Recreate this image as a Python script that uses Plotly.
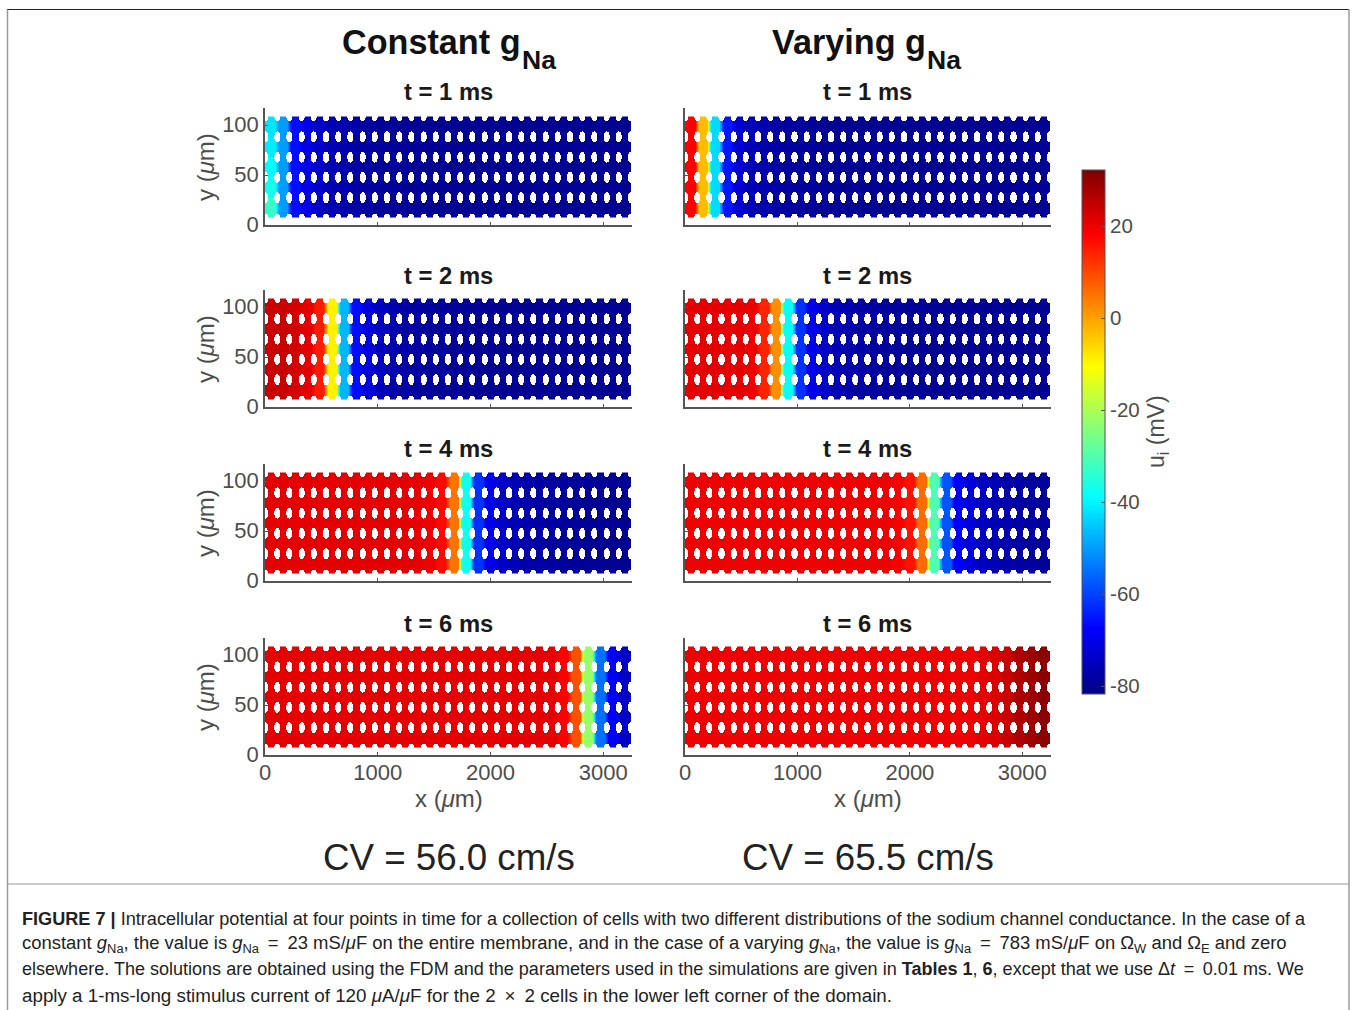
import numpy as np
import plotly.graph_objects as go

W, H = 1357, 1010
# Potential (mV) per cell column, 30 columns left to right
A_T1 = [-38,-50,-66,-71,-74,-76,-77,-78,-78.5,-79,-79,-79.5,-79.5,-80,-80,-80,-80,-80,-80,-80,-80,-80,-80,-80,-80,-80,-80,-80,-80,-80]
A_T2 = [24,24,23,21,15,-9,-47,-66,-72,-75,-77,-78,-78.5,-79,-79,-79.5,-79.5,-80,-80,-80,-80,-80,-80,-80,-80,-80,-80,-80,-80,-80]
A_T4 = [21,21,21,21,21,21,21,21,21,21,21,21,21,20,17,5,-37,-62,-70,-74,-76,-77,-78,-78.5,-79,-79,-79.5,-79.5,-80,-80]
A_T6 = [21,21,21,21,21,21,21,21,21,21,21,21,21,21,21,21,21,21,21,21,21,21,21,21,18,9,-22,-55,-68,-74]
B_T1 = [18,-3,-43,-65,-73,-76,-77,-78,-78.5,-79,-79,-79.5,-79.5,-80,-80,-80,-80,-80,-80,-80,-80,-80,-80,-80,-80,-80,-80,-80,-80,-80]
B_T2 = [21,21,21,21,21,20,14,2,-38,-62,-70,-74,-76,-77,-78,-78.5,-79,-79,-79.5,-79.5,-80,-80,-80,-80,-80,-80,-80,-80,-80,-80]
B_T4 = [20,20,20,20,20,20,20,20,20,20,20,20,20,20,20,20,20,19,16,6,-30,-58,-68,-72,-75,-76,-77,-78,-78.5,-79]
B_T6 = [20,20,20,20,20,20,20,20,20,20,20,20,20,20,20,20,20,20,20,20,20,20,20,20,21,22,24,27,29,31]
# First column of the t = 1 ms constant panel varies with row (bottom to top)
A_T1_FIRST_COLUMN = [-33,-37,-39,-41,-42]

PANEL_TIMES = ["t = 1 ms", "t = 2 ms", "t = 4 ms", "t = 6 ms"]
HEADINGS = ["Constant g", "Varying g"]
HEADING_SUB = "Na"
CV_LABELS = ["CV = 56.0 cm/s", "CV = 65.5 cm/s"]
X_TICKS = [0, 1000, 2000, 3000]
Y_TICKS = [0, 50, 100]
CB_TICKS = [-80, -60, -40, -20, 0, 20]
CB_TEXT = ["-80", "-60", "-40", "-20", "0", "20"]
JET = [[0, "#000084"], [0.125, "#0000ff"], [0.375, "#00ffff"], [0.625, "#ffff00"], [0.875, "#ff0000"], [1, "#800000"]]
T = "\u2009"
CAPTION = [
    "<b>FIGURE 7 |</b> Intracellular potential at four points in time for a collection of cells with two different distributions of the sodium channel conductance. In the case of a",
    f"constant <i>g</i><sub>Na</sub>, the value is <i>g</i><sub>Na</sub>{T} = {T}23 mS/<i>μ</i>F on the entire membrane, and in the case of a varying <i>g</i><sub>Na</sub>, the value is <i>g</i><sub>Na</sub>{T} = {T}783 mS/<i>μ</i>F on Ω<sub>W</sub> and Ω<sub>E</sub> and zero",
    f"elsewhere. The solutions are obtained using the FDM and the parameters used in the simulations are given in <b>Tables 1</b>, <b>6</b>, except that we use Δ<i>t</i>{T} = {T}0.01 ms. We",
    f"apply a 1-ms-long stimulus current of 120 <i>μ</i>A/<i>μ</i>F for the 2{T} × {T}2 cells in the lower left corner of the domain.",
]
CAPTION_SIZES = [18.13, 18.45, 18.05, 18.8]

GRAY = "#4d4d4d"
FONT = "Liberation Sans"
N_COL, N_ROW = 30, 5
X_SPAN, Y_LOW, Y_HIGH = 3250.0, 7.5, 108.5
PITCH_X = X_SPAN / N_COL
PITCH_Y = (Y_HIGH - Y_LOW) / N_ROW
SUB = 24
SOFT = 7

nx, ny = N_COL * SUB, int((Y_HIGH - Y_LOW) * 2)
dx, dy = X_SPAN / nx, (Y_HIGH - Y_LOW) / ny
xc = (np.arange(nx) + 0.5) * dx
yc = Y_LOW + (np.arange(ny) + 0.5) * dy
XX, YY = np.meshgrid(xc, yc)

ku = np.round(XX / PITCH_X) * PITCH_X
ju = np.round((YY - Y_LOW) / PITCH_Y) * PITCH_Y + Y_LOW
edge = (ju <= Y_LOW + 0.1) | (ju >= Y_HIGH - 0.1)
semi_x, semi_y = 27.0, np.where(edge, 4.2, 5.5)
MASK = ((XX - ku) / semi_x) ** 2 + ((YY - ju) / semi_y) ** 2 < 1


def field(values, first=None):
    column = (xc // PITCH_X).astype(int)
    z = np.tile(np.array(values, dtype=float)[column], (ny, 1))
    if first is not None:
        rows = np.minimum((yc - Y_LOW) // PITCH_Y, N_ROW - 1).astype(int)
        z[:, column == 0] = np.array(first, dtype=float)[rows][:, None]
    # soften the hard steps between cells, as in the blurred source picture
    pad = SOFT // 2
    padded = np.pad(z, ((0, 0), (pad, pad)), mode="edge")
    cum = np.cumsum(np.pad(padded, ((0, 0), (1, 0))), axis=1)
    z = ((cum[:, SOFT:] - cum[:, :-SOFT]) / SOFT).astype(np.float32)
    z[MASK] = np.nan
    return z


def px_x(p):
    return p / W


def px_y(p):
    return 1 - p / H


LEFT_X = [(265, 632), (685, 1051)]
BOTTOM_Y = [225, 407, 581, 755]
TITLE_Y = [92, 275, 449, 623]
HEADING_X = [342, 772]
HEADING_SUB_X = [522, 927]
PANEL_H = 117
COLUMNS = [[A_T1, A_T2, A_T4, A_T6], [B_T1, B_T2, B_T4, B_T6]]

fig = go.Figure()
layout = dict(
    width=W, height=H, margin=dict(l=0, r=0, t=0, b=0, autoexpand=False), autosize=False,
    paper_bgcolor="white", plot_bgcolor="white", showlegend=False,
    font=dict(family=FONT, color=GRAY),
    coloraxis=dict(
        cmin=-81.7, cmax=32.2, colorscale=JET,
        colorbar=dict(
            x=px_x(1082), xanchor="left", xpad=0, y=px_y(694), yanchor="bottom", ypad=0,
            thickness=23, thicknessmode="pixels", len=524, lenmode="pixels",
            outlinecolor="#555555", outlinewidth=1,
            tickmode="array", tickvals=CB_TICKS, ticktext=CB_TEXT,
            ticks="inside", ticklen=4, tickcolor="#555555",
            tickfont=dict(family=FONT, size=20.5, color=GRAY),
        ),
    ),
)
annotations = []
n = 0
for c in range(2):
    for r in range(4):
        n += 1
        suffix = "" if n == 1 else str(n)
        z = field(COLUMNS[c][r], A_T1_FIRST_COLUMN if (c == 0 and r == 0) else None)
        fig.add_trace(go.Heatmap(
            z=z, x0=dx / 2, dx=dx, y0=Y_LOW + dy / 2, dy=dy,
            coloraxis="coloraxis", xaxis=f"x{suffix}", yaxis=f"y{suffix}",
            hoverongaps=False,
        ))
        bottom = BOTTOM_Y[r]
        layout[f"xaxis{suffix}"] = dict(
            domain=[px_x(LEFT_X[c][0]), px_x(LEFT_X[c][1])], range=[0, 3255],
            anchor=f"y{suffix}", showgrid=False, zeroline=False,
            showline=True, linecolor="#555555", linewidth=1.5,
            ticks="inside", ticklen=3, tickcolor="#555555",
            tickmode="array", tickvals=X_TICKS,
            showticklabels=r == 3, ticklabelstandoff=-3,
            tickfont=dict(family=FONT, size=22, color=GRAY),
        )
        layout[f"yaxis{suffix}"] = dict(
            domain=[px_y(bottom), px_y(bottom - PANEL_H)], range=[0, 117],
            anchor=f"x{suffix}", showgrid=False, zeroline=False,
            showline=True, linecolor="#555555", linewidth=1.5,
            ticks="inside", ticklen=3, tickcolor="#555555",
            tickmode="array", tickvals=Y_TICKS,
            showticklabels=c == 0, ticklabelshift=-1,
            tickfont=dict(family=FONT, size=22, color=GRAY),
        )
        center = sum(LEFT_X[c]) / 2
        annotations.append(dict(
            text=f"<b>{PANEL_TIMES[r]}</b>", x=px_x(center), y=px_y(TITLE_Y[r]),
            font=dict(size=23.8, color="#1a1a1a"),
        ))
        if c == 0:
            annotations.append(dict(
                text="y (<i>μ</i>m)", x=px_x(205), y=px_y(bottom - 58), textangle=-90,
                font=dict(size=24, color=GRAY),
            ))
        if r == 3:
            annotations.append(dict(
                text="x (<i>μ</i>m)", x=px_x(center), y=px_y(798),
                font=dict(size=24, color=GRAY),
            ))
    center = sum(LEFT_X[c]) / 2
    annotations.append(dict(
        text=f"<b>{HEADINGS[c]}</b>", x=px_x(HEADING_X[c] - 2), xanchor="left", y=px_y(42),
        font=dict(size=34.2, color="#111111"),
    ))
    annotations.append(dict(
        text=f"<b>{HEADING_SUB}</b>", x=px_x(HEADING_SUB_X[c] - 2), xanchor="left", y=px_y(60),
        font=dict(size=26.5, color="#111111"),
    ))
    annotations.append(dict(
        text=CV_LABELS[c], x=px_x(center), y=px_y(857),
        font=dict(size=36.7, color="#222222"),
    ))

annotations.append(dict(
    text="u<sub>i</sub> (mV)", x=px_x(1158), y=px_y(432), textangle=-90,
    font=dict(size=23, color=GRAY),
))
for line, y, size in zip(CAPTION, [919, 944, 969, 995], CAPTION_SIZES):
    annotations.append(dict(
        text=line, x=px_x(20), xanchor="left", y=px_y(y),
        font=dict(size=size, color="#222222"),
    ))
for a in annotations:
    a.update(xref="paper", yref="paper", showarrow=False)
    a.setdefault("xanchor", "center")
    a.setdefault("yanchor", "middle")
layout["annotations"] = annotations
layout["shapes"] = [
    dict(type="line", xref="paper", yref="paper", x0=px_x(7), x1=px_x(1349), y0=px_y(9.5), y1=px_y(9.5),
         line=dict(color="#222222", width=1.2)),
    dict(type="line", xref="paper", yref="paper", x0=px_x(7.5), x1=px_x(7.5), y0=px_y(9.5), y1=px_y(1010),
         line=dict(color="#9a9a9a", width=1.5)),
    dict(type="line", xref="paper", yref="paper", x0=px_x(1349), x1=px_x(1349), y0=px_y(9.5), y1=px_y(1010),
         line=dict(color="#9a9a9a", width=1.5)),
    dict(type="line", xref="paper", yref="paper", x0=px_x(7.5), x1=px_x(1349), y0=px_y(884), y1=px_y(884),
         line=dict(color="#9a9a9a", width=1.2)),
]
fig.update_layout(**layout)
fig.write_html("out.html", config={"displayModeBar": False},
               post_script="document.body.style.margin='0';document.body.style.overflow='hidden';")
